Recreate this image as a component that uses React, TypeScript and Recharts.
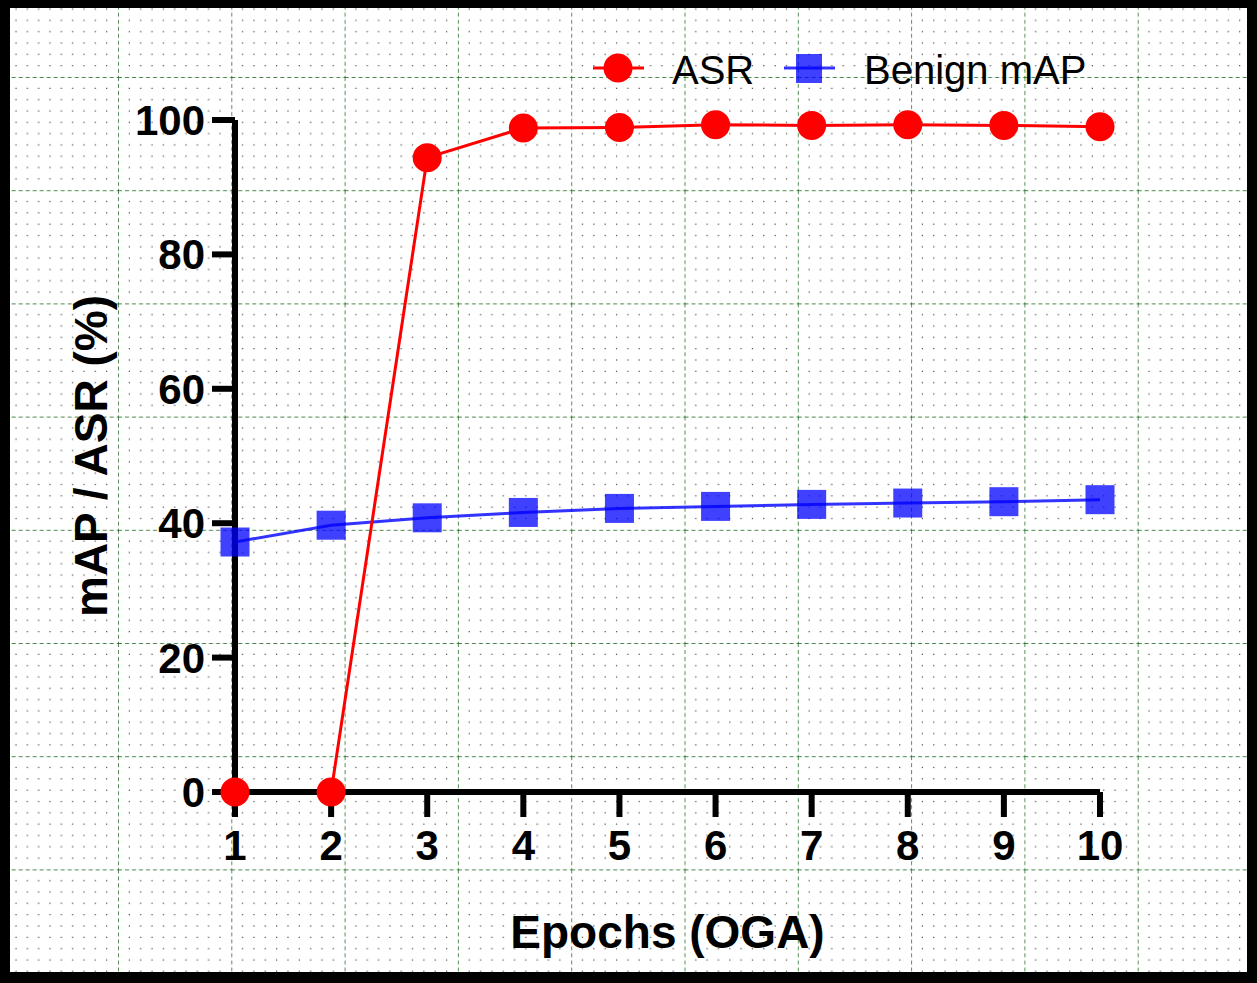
import React from 'react'
import { LineChart, Line, XAxis, YAxis, Legend, Label } from 'recharts'

// values
const epochs = [1, 2, 3, 4, 5, 6, 7, 8, 9, 10]
const asr = [0, 0, 94.4, 98.8, 98.9, 99.3, 99.2, 99.3, 99.2, 99.0]
const benignMap = [37.2, 39.7, 40.8, 41.6, 42.2, 42.5, 42.8, 43.0, 43.2, 43.5]
const yTicks = [0, 20, 40, 60, 80, 100]

const chartData = epochs.map((epoch, i) => ({
  epoch,
  asr: asr[i],
  benign: benignMap[i],
}))

const W = 1257
const H = 983
const FONT = '"Liberation Sans", Arial, Helvetica, sans-serif'
const RED = '#ff0000'
const BLUE = '#0000ff'

// background paper grid (green dashed major lines, dotted minor lattice)
const GX = 113.3
const GY = 113.2
const minorX = Array.from({ length: 9 }, (_, i) => ((i + 1) * GX) / 10)
const minorY = Array.from({ length: 9 }, (_, i) => ((i + 1) * GY) / 10)

const PaperGrid = () => (
  <svg width={W} height={H} style={{ position: 'absolute', left: 0, top: 0 }}>
    <defs>
      <pattern id="paper" x={4.7} y={77} width={GX} height={GY} patternUnits="userSpaceOnUse">
        {minorX.map((x) =>
          minorY.map((y) => (
            <rect key={`${x}-${y}`} x={x - 0.6} y={y - 0.6} width={1.2} height={1.2} fill="#444" />
          ))
        )}
        <line x1={0} y1={0} x2={GX} y2={0} stroke="#0d5e0d" strokeWidth={1.4} strokeDasharray="4 3" />
        <line x1={0} y1={0} x2={0} y2={GY} stroke="#0d5e0d" strokeWidth={1.4} strokeDasharray="4 3" />
      </pattern>
    </defs>
    <rect x={0} y={0} width={W} height={H} fill="#fff" />
    <rect x={0} y={0} width={W} height={H} fill="url(#paper)" />
  </svg>
)

const SquareDot = (props: any) => {
  const { cx, cy } = props
  if (cx == null || cy == null) return null
  return <rect x={cx - 14.5} y={cy - 14.5} width={29} height={29} fill={BLUE} fillOpacity={0.75} />
}

const renderLegend = () => (
  <svg width={W} height={120} style={{ display: 'block' }}>
    <line x1={593} y1={68} x2={644} y2={68} stroke={RED} strokeWidth={3} />
    <circle cx={618} cy={68} r={14.5} fill={RED} />
    <text x={672} y={84} fontFamily={FONT} fontSize={40} fill="#000">ASR</text>
    <line x1={784} y1={68} x2={835} y2={68} stroke={BLUE} strokeWidth={3} strokeOpacity={0.8} />
    <rect x={796} y={54} width={26} height={29} fill={BLUE} fillOpacity={0.75} />
    <text x={864} y={84} fontFamily={FONT} fontSize={40} fill="#000">Benign mAP</text>
  </svg>
)

const tickStyle = { fontFamily: FONT, fontSize: 42, fontWeight: 'bold', fill: '#000' }

const XTitle = (props: any) => {
  const vb = props.viewBox || {}
  const cx = (vb.x ?? 235) + (vb.width ?? 865) / 2
  return (
    <text x={cx} y={948} textAnchor="middle" fontFamily={FONT} fontSize={46} fontWeight="bold" fill="#000">
      Epochs (OGA)
    </text>
  )
}

const YTitle = (props: any) => {
  const vb = props.viewBox || {}
  const cy = (vb.y ?? 120) + (vb.height ?? 672) / 2
  return (
    <text
      x={107}
      y={cy}
      transform={`rotate(-90, 107, ${cy})`}
      textAnchor="middle"
      fontFamily={FONT}
      fontSize={46}
      fontWeight="bold"
      fill="#000"
    >
      mAP / ASR (%)
    </text>
  )
}

export default function App() {
  return (
    <div style={{ position: 'absolute', left: 0, top: 0, width: W, height: H, background: '#fff' }}>
      <PaperGrid />
      <div style={{ position: 'absolute', left: 0, top: 0 }}>
        <LineChart width={W} height={H} data={chartData} margin={{ top: 0, right: 157, bottom: 0, left: 0 }}>
          <XAxis
            dataKey="epoch"
            type="number"
            domain={[1, 10]}
            ticks={epochs}
            height={191}
            tickSize={25}
            tickMargin={13}
            tick={tickStyle}
            axisLine={{ stroke: '#000', strokeWidth: 6 }}
            tickLine={{ stroke: '#000', strokeWidth: 6 }}
            interval={0}
          >
            <Label content={<XTitle />} />
          </XAxis>
          <YAxis
            type="number"
            domain={[0, 100]}
            ticks={yTicks}
            width={235}
            tickSize={23}
            tickMargin={7}
            tick={tickStyle}
            axisLine={{ stroke: '#000', strokeWidth: 6 }}
            tickLine={{ stroke: '#000', strokeWidth: 6 }}
            interval={0}
          >
            <Label content={<YTitle />} />
          </YAxis>
          <Legend
            verticalAlign="top"
            height={120}
            content={renderLegend}
            wrapperStyle={{ left: 0, top: 0, width: W, height: 120 }}
          />
          <Line
            dataKey="benign"
            stroke={BLUE}
            strokeOpacity={0.8}
            strokeWidth={3}
            dot={<SquareDot />}
            activeDot={false}
            isAnimationActive={false}
          />
          <Line
            dataKey="asr"
            stroke={RED}
            strokeWidth={3}
            dot={{ r: 14.5, fill: RED, stroke: RED, strokeWidth: 0 }}
            activeDot={false}
            isAnimationActive={false}
          />
        </LineChart>
      </div>
      <div
        style={{
          position: 'absolute',
          left: 0,
          top: 0,
          width: W,
          height: H,
          boxSizing: 'border-box',
          borderStyle: 'solid',
          borderColor: '#000',
          borderWidth: '8px 10px 11px 10px',
          pointerEvents: 'none',
        }}
      />
    </div>
  )
}
